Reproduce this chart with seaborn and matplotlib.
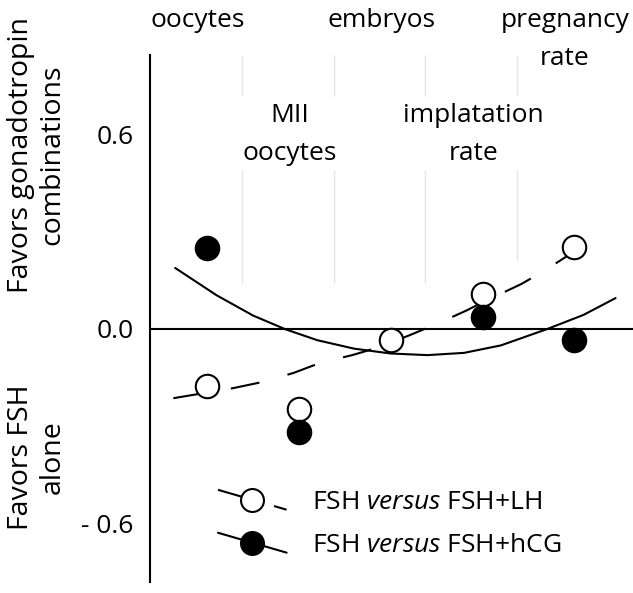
import numpy as np
import pandas as pd
import matplotlib
matplotlib.use("Agg")
import matplotlib.pyplot as plt
import seaborn as sns
from matplotlib.lines import Line2D
from matplotlib.legend_handler import HandlerLine2D

# ---------------- data ----------------
categories = ["oocytes", "MII\noocytes", "embryos", "implatation\nrate", "pregnancy\nrate"]
cat_pos = [1, 2, 3, 4, 5]

lh_pos = [1, 2, 3, 4, 5]
lh_values = [-0.177, -0.248, -0.035, 0.108, 0.252]

hcg_pos = [1, 2, 4, 5]
hcg_values = [0.248, -0.319, 0.035, -0.035]

# trend curves
lh_trend_x = [0.63, 1.28, 1.60, 1.94, 2.23, 2.58, 2.88, 3.21, 3.50, 3.82, 4.01, 4.42, 4.69, 5.13, 5.26]
lh_trend_y = [-0.215, -0.184, -0.165, -0.137, -0.106, -0.082, -0.057, -0.020, 0.014, 0.055, 0.082, 0.137, 0.181, 0.262, 0.285]

hcg_trend_x = [0.65, 1.10, 1.50, 1.85, 2.20, 2.60, 3.00, 3.40, 3.80, 4.20, 4.70, 5.10, 5.45]
hcg_trend_y = [0.187, 0.103, 0.040, -0.002, -0.036, -0.062, -0.077, -0.082, -0.075, -0.052, -0.002, 0.042, 0.094]

yticks = [0.6, 0.0, -0.6]
ytick_labels = ["0.6", "0.0", "- 0.6"]
ylabel_top = "Favors gonadotropin\ncombinations"
ylabel_bottom = "Favors FSH\nalone"
legend_labels = ["FSH $\\mathit{versus}$ FSH+LH", "FSH $\\mathit{versus}$ FSH+hCG"]

# ---------------- style ----------------
sns.set_style("white")
plt.rcParams["font.family"] = ["Open Sans", "DejaVu Sans"]
plt.rcParams["mathtext.fontset"] = "custom"
plt.rcParams["mathtext.rm"] = "Open Sans"
plt.rcParams["mathtext.it"] = "Open Sans:italic"
plt.rcParams["text.color"] = "black"
plt.rcParams["ytick.color"] = "black"

FS = 19
LW = 1.5
DASH = (0, (14, 14))

fig = plt.figure(figsize=(6.33, 5.93), dpi=100)
ax = fig.add_axes([150 / 633, 11 / 593, 483 / 633, 527 / 593])

X0, X1 = 0.376, 5.64
ax.set_xlim(X0, X1)
ax.set_ylim(-0.782, 0.844)

# faint vertical guide lines (band borders)
gx = [X0 + k for k in range(1, 5)]
ax.vlines(gx, 0.716, 0.844, color="#e4e4e4", lw=1.0, zorder=0)
ax.vlines(gx[:3], 0.14, 0.49, color="#e4e4e4", lw=1.0, zorder=0)
ax.vlines(gx[3:], 0.21, 0.49, color="#e4e4e4", lw=1.0, zorder=0)

# zero line
ax.axhline(0, color="black", lw=LW, zorder=1)

# trend curves
lh_tr = pd.DataFrame({"x": lh_trend_x, "y": lh_trend_y})
hcg_tr = pd.DataFrame({"x": hcg_trend_x, "y": hcg_trend_y})
sns.lineplot(data=hcg_tr, x="x", y="y", sort=False, estimator=None, color="black",
             lw=LW, ax=ax, zorder=2)
sns.lineplot(data=lh_tr, x="x", y="y", sort=False, estimator=None, color="black",
             lw=LW, ax=ax, zorder=2, linestyle=DASH)

# points
lh_df = pd.DataFrame({"x": lh_pos, "y": lh_values})
hcg_df = pd.DataFrame({"x": hcg_pos, "y": hcg_values})
sns.scatterplot(data=lh_df, x="x", y="y", s=285, facecolor="white", edgecolor="black",
                linewidth=LW, ax=ax, zorder=3)
sns.scatterplot(data=hcg_df, x="x", y="y", s=285, color="black", edgecolor="black",
                linewidth=LW, ax=ax, zorder=4)

# axes styling
for s in ["top", "right", "bottom"]:
    ax.spines[s].set_visible(False)
ax.spines["left"].set_linewidth(LW)
ax.spines["left"].set_color("black")
ax.set_xticks([])
ax.set_yticks(yticks)
ax.set_yticklabels(ytick_labels, fontsize=FS)
ax.tick_params(axis="y", length=0, pad=12)
ax.set_xlabel("")
ax.set_ylabel("")

# category labels
top_row = [0, 2, 4]
for i, (lab, p) in enumerate(zip(categories, cat_pos)):
    y = 0.988 if i in top_row else 0.697
    ax.text(p - 0.1, y, lab, ha="center", va="top", fontsize=FS, linespacing=1.68,
            transform=ax.transData, clip_on=False)

# y labels
fig.text(37 / 633, 1 - 155 / 593, ylabel_top, rotation=90, ha="center", va="center",
         multialignment="center", fontsize=20.5, linespacing=1.17)
fig.text(37 / 633, 1 - 457 / 593, ylabel_bottom, rotation=90, ha="center", va="center",
         multialignment="center", fontsize=20.5, linespacing=1.17)


class SlantHandler(HandlerLine2D):
    def create_artists(self, legend, orig_handle, xdescent, ydescent, width, height,
                       fontsize, trans):
        arts = super().create_artists(legend, orig_handle, xdescent, ydescent, width,
                                      height, fontsize, trans)
        for a in arts:
            x = np.asarray(a.get_xdata(), float)
            y = np.asarray(a.get_ydata(), float)
            xm = (x.min() + x.max()) / 2
            a.set_ydata(y - (x - xm) * 0.29)
        return arts


h1 = Line2D([], [], color="black", lw=LW, linestyle=DASH, marker="o", markersize=16.5,
            markerfacecolor="white", markeredgecolor="black", markeredgewidth=LW)
h2 = Line2D([], [], color="black", lw=LW, linestyle="-", marker="o", markersize=16.5,
            markerfacecolor="black", markeredgecolor="black", markeredgewidth=LW)
leg = ax.legend([h1, h2], legend_labels, handler_map={Line2D: SlantHandler()},
                loc="upper left", bbox_to_anchor=(218 / 633, 1 - 490 / 593),
                bbox_transform=fig.transFigure, frameon=False, fontsize=FS,
                handlelength=2.6, handletextpad=0.95, labelspacing=0.68,
                borderpad=0, borderaxespad=0, numpoints=1)

fig.savefig("out.png", dpi=100)
